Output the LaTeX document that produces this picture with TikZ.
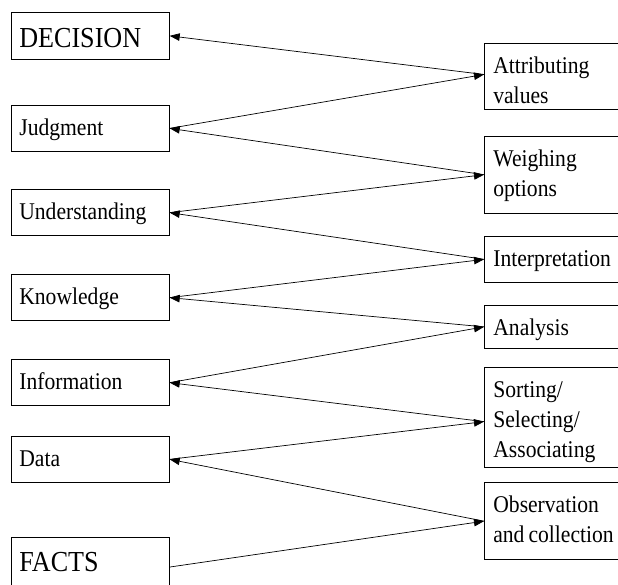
\documentclass[tikz,border=0pt]{standalone}
\usepackage{fontspec}
\setmainfont{Liberation Serif}[FakeStretch=0.9]
\usetikzlibrary{arrows.meta}

\begin{document}
\begin{tikzpicture}[x=1pt, y=-1pt, >={Triangle[length=10pt,width=7.5pt]}]
  \tikzset{stage/.style={draw, line width=0.7pt, anchor=north west, inner xsep=8pt, inner ysep=0pt,
             text width=142pt, align=left, font=\fontsize{24}{30}\selectfont,
             execute at begin node={\spaceskip=4pt plus 1pt minus 1pt\relax},
             text height=30pt, text depth=#1},
           big/.style={font=\fontsize{29}{34}\selectfont, text height=34.4pt},
           act/.style={stage=#1, inner xsep=9pt, text width=150pt},
           flow/.style={->, line width=0.7pt}}
  \useasboundingbox (0,0) rectangle (618,585);

  % the ladder, left column
  \node[stage=12pt, big] (dec)  at (11,12.3)  {DECISION};
  \node[stage=16pt]      (judg) at (11,105)   {Judgment};
  \node[stage=16pt]      (und)  at (11,189.3) {Understanding};
  \node[stage=16pt]      (know) at (11,274.3) {Knowledge};
  \node[stage=16pt]      (info) at (11,359.3) {Information};
  \node[stage=16pt]      (data) at (11,436)   {Data};
  \node[stage=25.6pt, big] (facts) at (11,536.7) {FACTS};

  % the processes, right column
  \node[act=35.7pt] (attr)  at (484,43.3)  {Attributing\\values};
  \node[act=46.7pt] (weigh) at (484,136)   {Weighing\\options};
  \node[act=16pt]   (interp) at (484,236)  {Interpretation};
  \node[act=13pt]   (anal)  at (484,305)   {Analysis};
  \node[act=70pt]   (sort)  at (484,367.3) {Sorting/\\Selecting/\\Associating};
  \node[act=47pt]   (obs)   at (484,482.3) {Observation\\and collection};

  % zig-zag from facts up to decision
  \draw[flow] (facts.east) -- (obs.west);
  \draw[flow] (obs.west) -- (data.east);
  \draw[flow] (data.east) -- ([yshift=-4pt]sort.west);
  \draw[flow] ([yshift=-4pt]sort.west) -- (info.east);
  \draw[flow] (info.east) -- (anal.west);
  \draw[flow] (anal.west) -- (know.east);
  \draw[flow] (know.east) -- (interp.west);
  \draw[flow] (interp.west) -- (und.east);
  \draw[flow] (und.east) -- (weigh.west);
  \draw[flow] (weigh.west) -- (judg.east);
  \draw[flow] (judg.east) -- ([yshift=2pt]attr.west);
  \draw[flow] ([yshift=2pt]attr.west) -- (dec.east);
\end{tikzpicture}
\end{document}
